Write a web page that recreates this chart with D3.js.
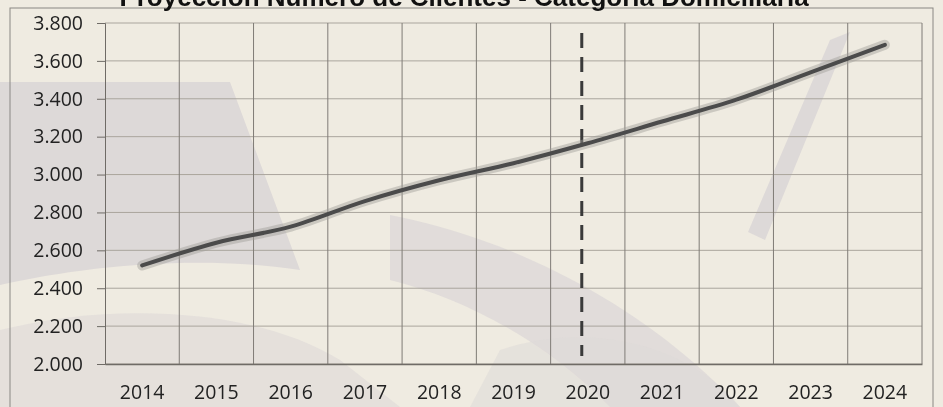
<!DOCTYPE html>
<html>
<head>
<meta charset="utf-8">
<script src="https://cdn.jsdelivr.net/npm/d3@7"></script>
<style>
  body { margin: 0; background: #efebe1; }
  svg { display: block; }
  .tick text { font-family: "Open Sans", "Liberation Sans", sans-serif; font-size: 19.5px; fill: #222; }
</style>
</head>
<body>
<div id="chart"></div>
<script>
// Data
var years = ["2014", "2015", "2016", "2017", "2018", "2019", "2020", "2021", "2022", "2023", "2024"];
var clientes = [2520, 2640, 2725, 2860, 2970, 3060, 3165, 3280, 3395, 3540, 3685];
var yTicks = [2000, 2200, 2400, 2600, 2800, 3000, 3200, 3400, 3600, 3800];
var splitYear = "2020";

var svgWidth = 943;
var svgHeight = 407;
var margin = {top: 23, right: 21, bottom: 43, left: 105};
var width = svgWidth - margin.left - margin.right;
var height = svgHeight - margin.top - margin.bottom;

var svg = d3.select("#chart").append("svg")
  .attr("width", svgWidth)
  .attr("height", svgHeight);

// paper background + faint watermark shapes from the print
svg.append("rect").attr("width", svgWidth).attr("height", svgHeight).attr("fill", "#efebe1");
var bg = svg.append("g").attr("fill", "#d6d1d4").attr("opacity", 0.7);
bg.append("path").attr("d", "M0,82 L230,82 L300,270 C200,255 90,265 0,285 Z");
bg.append("path").attr("d", "M0,330 C120,300 260,310 340,360 L400,407 L0,407 Z").attr("opacity", 0.6);
bg.append("path").attr("d", "M390,215 C520,240 650,310 740,407 L610,407 C550,345 470,300 390,280 Z").attr("opacity", 0.8);
bg.append("path").attr("d", "M830,40 L850,32 L765,240 L748,232 Z");
bg.append("path").attr("d", "M500,350 C590,320 690,345 740,407 L470,407 Z").attr("opacity", 0.5);

// outer frame
svg.append("rect").attr("x", 10).attr("y", 8).attr("width", 923).attr("height", 420)
  .attr("fill", "none").attr("stroke", "#8a8783").attr("stroke-width", 1);

// title (cut off at the top in the scan)
svg.append("text")
  .attr("x", 464).attr("y", 6)
  .attr("text-anchor", "middle")
  .style("font-family", "Liberation Sans, Arial, sans-serif")
  .style("font-weight", "bold")
  .style("font-size", "26px")
  .attr("fill", "#111")
  .text("Proyección Número de Clientes - Categoría Domiciliaria");

var chartGroup = svg.append("g")
  .attr("transform", `translate(${margin.left}, ${margin.top})`);

var xBand = d3.scaleBand().domain(years).range([0, width]);
var yLinearScale = d3.scaleLinear().domain([2000, 3800]).range([height, 0]);

// horizontal grid
chartGroup.append("g")
  .selectAll("line")
  .data(yTicks)
  .enter()
  .append("line")
  .attr("x1", 0).attr("x2", width)
  .attr("y1", d => yLinearScale(d)).attr("y2", d => yLinearScale(d))
  .attr("stroke", "#aaa59d").attr("stroke-width", 1);

// vertical grid at band edges
chartGroup.append("g")
  .selectAll("line")
  .data(years.slice(1).concat(["end"]))
  .enter()
  .append("line")
  .attr("x1", (d, i) => xBand.step() * (i + 1))
  .attr("x2", (d, i) => xBand.step() * (i + 1))
  .attr("y1", 0).attr("y2", height)
  .attr("stroke", "#7f7b76").attr("stroke-width", 1);

// y axis
var leftAxis = d3.axisLeft(yLinearScale).tickValues(yTicks).tickSize(8).tickPadding(14)
  .tickFormat(d => d3.format(".3f")(d / 1000));
var yAxis = chartGroup.append("g").call(leftAxis);
yAxis.select(".domain").attr("stroke", "#6f6b66");
yAxis.selectAll(".tick line").attr("stroke", "#6f6b66");

// x axis
var bottomAxis = d3.axisBottom(xBand).tickSize(0).tickPadding(21);
var xAxis = chartGroup.append("g").attr("transform", `translate(0, ${height})`).call(bottomAxis);
xAxis.select(".domain").attr("stroke", "#6f6b66").attr("stroke-width", 1.5);

// dashed divider
var xs = xBand(splitYear) + xBand.bandwidth() / 2 - 6;
chartGroup.append("line")
  .attr("x1", xs).attr("x2", xs)
  .attr("y1", 10).attr("y2", height - 8)
  .attr("stroke", "#3a3a3a").attr("stroke-width", 3)
  .attr("stroke-dasharray", "15,9");

// projection line with soft shadow
var line = d3.line()
  .x((d, i) => xBand(years[i]) + xBand.bandwidth() / 2)
  .y(d => yLinearScale(d))
  .curve(d3.curveMonotoneX);

chartGroup.append("path")
  .datum(clientes)
  .attr("d", line)
  .attr("fill", "none")
  .attr("stroke", "#a09d9a")
  .attr("stroke-width", 10)
  .attr("stroke-linecap", "round")
  .attr("opacity", 0.45);

chartGroup.append("path")
  .datum(clientes)
  .attr("d", line)
  .attr("fill", "none")
  .attr("stroke", "#4b4b4b")
  .attr("stroke-width", 4)
  .attr("stroke-linecap", "round");
</script>
</body>
</html>
